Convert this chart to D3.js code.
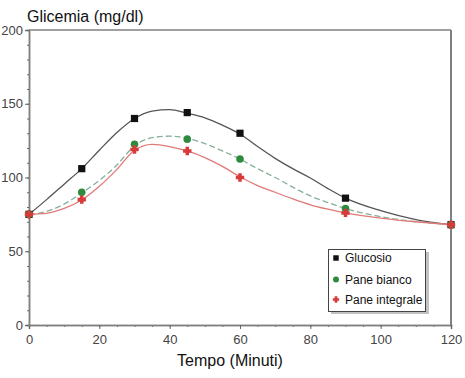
<!DOCTYPE html>
<html><head><meta charset="utf-8">
<script src="https://cdn.jsdelivr.net/npm/d3@7"></script>
<style>body{margin:0;background:#fff}svg{display:block;font-family:"Liberation Sans",Arial,sans-serif}</style>
</head><body><svg id="c" width="465" height="378"></svg>
<script>
// measured points
const times = [0, 15, 30, 45, 60, 90, 120];
const glucosio = [75, 106, 140, 144, 130, 86, 68];
const paneBianco = [75, 90, 122.5, 126, 112.5, 79, 68];
const paneIntegrale = [75, 85, 119, 118, 100, 76, 68];
// fitted curves
const fitTimes = [0, 5, 10, 15, 20, 25, 30, 35, 40, 45, 50, 55, 60, 65, 70, 75, 80, 85, 90, 100, 110, 120];
const fitGlucosio = [75, 85, 95.5, 106, 118.5, 130.5, 140, 145, 146, 143.5, 140.5, 135.5, 129.5, 121, 113, 106, 99.7, 92.5, 86, 77.5, 71.5, 68];
const fitBianco = [75, 77, 82, 89.5, 98, 108.5, 121.5, 127, 128, 126.5, 123, 118, 112.5, 106, 100, 93.5, 87.5, 83, 79, 73.5, 70, 68];
const fitIntegrale = [75, 75.7, 79, 84.7, 94, 105.5, 118.5, 122.5, 121, 118, 113.5, 107.5, 100.5, 94.5, 90, 85.5, 81.5, 78.5, 76, 72.5, 70, 68];
const xTicks = [0, 20, 40, 60, 80, 100, 120];
const yTicks = [0, 50, 100, 150, 200];
const seriesNames = ["Glucosio", "Pane bianco", "Pane integrale"];

const svg = d3.select("#c");
const x = d3.scaleLinear().domain([0, 120]).range([29, 451]);
const y = d3.scaleLinear().domain([0, 200]).range([325, 30]);
const axisCol = "#808080";

// frame top/right
svg.append("line").attr("x1", 29).attr("x2", 451).attr("y1", 30).attr("y2", 30).attr("stroke", axisCol).attr("stroke-width", 1.5);
svg.append("line").attr("x1", 451).attr("x2", 451).attr("y1", 30).attr("y2", 325).attr("stroke", axisCol).attr("stroke-width", 2);

// minor ticks
const gx = svg.append("g").attr("transform", "translate(0,325)");
gx.call(d3.axisBottom(x).tickValues(d3.range(0, 121, 5)).tickSize(2).tickFormat(""));
const gy = svg.append("g").attr("transform", "translate(29,0)");
gy.call(d3.axisLeft(y).tickValues(d3.range(0, 201, 10)).tickSize(2).tickFormat(""));
// major ticks
const gx2 = svg.append("g").attr("transform", "translate(0,325)");
gx2.call(d3.axisBottom(x).tickValues(xTicks).tickSize(4).tickPadding(6));
const gy2 = svg.append("g").attr("transform", "translate(29,0)");
gy2.call(d3.axisLeft(y).tickValues(yTicks).tickSize(4).tickPadding(2));
[gx, gy, gx2, gy2].forEach(g => {
  g.select(".domain").attr("stroke", axisCol).attr("stroke-width", 1.5);
  g.selectAll(".tick line").attr("stroke", "#666");
  g.selectAll("text").attr("font-size", 13).attr("fill", "#444").attr("font-family", "Liberation Sans, Arial, sans-serif");
});

// curves
const line = d3.line().x(d => x(d[0])).y(d => y(d[1])).curve(d3.curveMonotoneX);
svg.append("path").attr("d", line(fitTimes.map((t, i) => [t, fitGlucosio[i]])))
  .attr("fill", "none").attr("stroke", "#555").attr("stroke-width", 1.3);
svg.append("path").attr("d", line(fitTimes.map((t, i) => [t, fitBianco[i]])))
  .attr("fill", "none").attr("stroke", "#86b09a").attr("stroke-width", 1.3).attr("stroke-dasharray", "6,3");
svg.append("path").attr("d", line(fitTimes.map((t, i) => [t, fitIntegrale[i]])))
  .attr("fill", "none").attr("stroke", "#e07a78").attr("stroke-width", 1.3);

// thick-armed cross marker (looks like a notched diamond)
const thickCross = {
  draw(ctx, size) {
    const r = Math.sqrt(size) / 2, a = r * 0.42;
    ctx.moveTo(-a, -r); ctx.lineTo(a, -r); ctx.lineTo(a, -a); ctx.lineTo(r, -a);
    ctx.lineTo(r, a); ctx.lineTo(a, a); ctx.lineTo(a, r); ctx.lineTo(-a, r);
    ctx.lineTo(-a, a); ctx.lineTo(-r, a); ctx.lineTo(-r, -a); ctx.lineTo(-a, -a);
    ctx.closePath();
  }
};

// markers
const sym = (type, size) => d3.symbol().type(type).size(size)();
svg.append("g").selectAll("path").data(times).join("path")
  .attr("d", sym(d3.symbolSquare, 52)).attr("fill", "#111")
  .attr("transform", (t, i) => `translate(${x(t)},${y(glucosio[i])})`);
svg.append("g").selectAll("path").data(times).join("path")
  .attr("d", sym(d3.symbolCircle, 45)).attr("fill", "#2e8a3c")
  .attr("transform", (t, i) => `translate(${x(t)},${y(paneBianco[i])})`);
svg.append("g").selectAll("path").data(times).join("path")
  .attr("d", sym(thickCross, 70)).attr("fill", "#d83a3a")
  .attr("transform", (t, i) => `translate(${x(t)},${y(paneIntegrale[i])})`);

// titles
svg.append("text").attr("x", 27).attr("y", 22).attr("font-size", 16).attr("fill", "#111").text("Glicemia (mg/dl)");
svg.append("text").attr("x", 230).attr("y", 366).attr("text-anchor", "middle").attr("font-size", 16).attr("fill", "#111").text("Tempo (Minuti)");

// legend
const lg = svg.append("g");
lg.append("rect").attr("x", 331).attr("y", 252).attr("width", 98).attr("height", 62).attr("fill", "#999").attr("opacity", 0.6);
lg.append("rect").attr("x", 328.5).attr("y", 249.5).attr("width", 97).attr("height", 62).attr("fill", "#fff").attr("stroke", "#444").attr("stroke-width", 1);
const ly = [258, 279.5, 299.5];
lg.append("path").attr("d", sym(d3.symbolSquare, 30)).attr("fill", "#111").attr("transform", `translate(336,${ly[0]})`);
lg.append("path").attr("d", sym(d3.symbolCircle, 28)).attr("fill", "#2e8a3c").attr("transform", `translate(336,${ly[1]})`);
lg.append("path").attr("d", sym(thickCross, 40)).attr("fill", "#d83a3a").attr("transform", `translate(336,${ly[2]})`);
lg.selectAll("text.l").data(seriesNames).join("text").attr("class", "l")
  .attr("x", 345).attr("y", (d, i) => ly[i] + 4).attr("font-size", 12).attr("fill", "#111").text(d => d);
</script></body></html>
